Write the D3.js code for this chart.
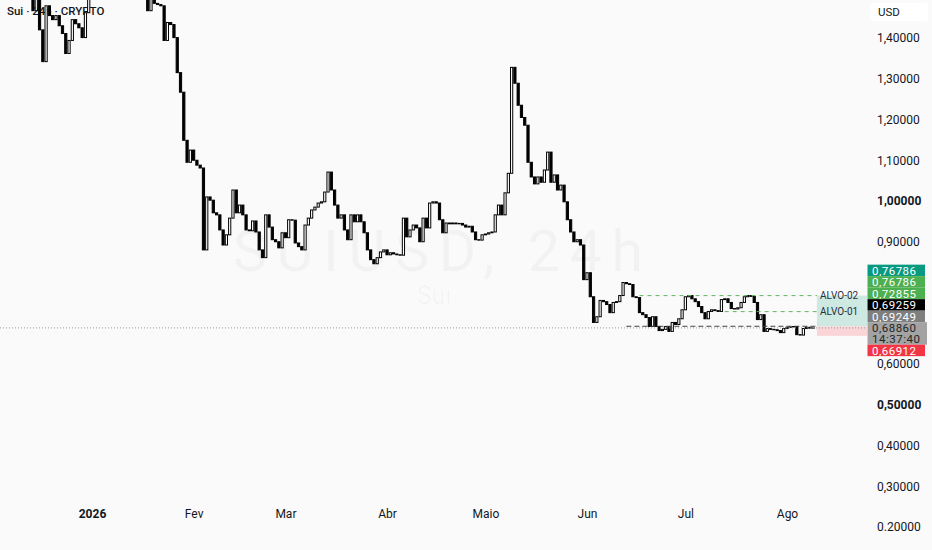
<!DOCTYPE html>
<html><head><meta charset="utf-8">
<script src="https://cdn.jsdelivr.net/npm/d3@7"></script>
<style>
html,body{margin:0;padding:0;background:#fafafa;}
svg{display:block;font-family:Roboto,"Noto Sans",sans-serif;}
</style></head><body>
<svg id="c" width="932" height="550"></svg>
<script>
// ---------- data ----------
const startDate = "2025-12-12";           // first daily candle
const closes = [
1.550,1.530,1.467,1.500,1.420,1.342,1.479,1.455,1.445,1.455,
1.430,1.411,1.362,1.394,1.445,1.435,1.425,1.401,1.462,1.510,
1.560,1.600,1.640,1.620,1.680,1.720,1.700,1.740,1.690,1.710,
1.660,1.650,1.620,1.600,1.580,1.560,1.530,1.467,1.500,1.485,
1.482,1.479,1.394,1.438,1.433,1.401,1.315,1.267,1.149,1.095,
1.125,1.100,1.088,1.081,0.880,1.010,1.002,0.971,0.966,0.929,
0.892,0.917,0.958,1.027,0.971,0.990,0.966,0.929,0.927,0.951,
0.924,0.880,0.861,0.966,0.936,0.905,0.900,0.885,0.922,0.910,
0.954,0.953,0.897,0.888,0.880,0.941,0.958,0.978,0.985,0.995,
0.998,1.022,1.071,1.027,0.990,0.958,0.966,0.929,0.905,0.966,
0.949,0.966,0.949,0.922,0.880,0.856,0.846,0.861,0.875,0.880,
0.868,0.873,0.870,0.868,0.867,0.958,0.912,0.929,0.941,0.934,
0.900,0.958,0.934,0.995,0.998,0.995,0.954,0.922,0.946,0.944,
0.946,0.944,0.945,0.941,0.936,0.938,0.924,0.905,0.904,0.917,
0.919,0.922,0.924,0.966,0.990,0.966,1.020,1.068,1.328,1.289,
1.235,1.205,1.186,1.095,1.059,1.042,1.059,1.046,1.076,1.120,
1.046,1.064,1.027,1.039,0.998,0.954,0.924,0.900,0.905,0.892,
0.807,0.824,0.765,0.702,0.716,0.756,0.753,0.746,0.726,0.751,
0.753,0.768,0.800,0.797,0.795,0.765,0.763,0.726,0.721,0.714,
0.692,0.716,0.692,0.682,0.685,0.692,0.680,0.702,0.697,0.711,
0.733,0.765,0.768,0.760,0.753,0.741,0.726,0.711,0.729,0.733,
0.731,0.729,0.758,0.760,0.751,0.736,0.735,0.738,0.751,0.765,
0.768,0.766,0.751,0.709,0.721,0.680,0.687,0.685,0.684,0.682,
0.677,0.687,0.690,0.691,0.692,0.672,0.671,0.687,0.690,0.688,0.6886
];
const priceTicks      = [1.4, 1.3, 1.2, 1.1, 1.0, 0.9, 0.6, 0.5, 0.4, 0.3, 0.2];
const priceTickLabels = ["1,40000","1,30000","1,20000","1,10000","1,00000","0,90000","0,60000","0,50000","0,40000","0,30000","0.20000"];
const boldPriceTicks  = [1.0, 0.5];
const monthTicks  = ["2026-01-01","2026-02-01","2026-03-01","2026-04-01","2026-05-01","2026-06-01","2026-07-01","2026-08-01"];
const monthLabels = ["2026","Fev","Mar","Abr","Maio","Jun","Jul","Ago"];
const targetNames  = ["ALVO-02","ALVO-01"];
const targetPrices = [0.76786, 0.72855];
const targetFrom   = ["2026-06-17","2026-07-13"];
const entryPrice = 0.69259, entryFrom = "2026-06-13";
const stopPrice = 0.66912;
const lastPrice = 0.68860, lastTime = "14:37:40";
const toolFrom = "2026-08-10T03:00", toolTo = "2026-08-26";
const badgeLabels = ["0,76786","0,76786","0,72855","0,69259","0,69249","0,68860","0,66912"];
const badgePrices = [0.76786, 0.76786, 0.72855, 0.69259, 0.69249, 0.68860, 0.66912];
const badgeColors = ["#089981","#4caf50","#4caf50","#000000","#7e7e7e","#a3a3a3","#f23645"];
const badgeText   = ["#fff","#fff","#fff","#fff","#fff","#262626","#fff"];

// ---------- setup ----------
const W = 932, H = 550, plotR = 867, plotB = 500;
const svg = d3.select("#c");
svg.append("rect").attr("width",W).attr("height",H).attr("fill","#fafafa");
const parse = s => new Date(s + (s.length===10 ? "T00:00:00Z" : ":00Z"));
const x = d3.scaleUtc().domain([parse("2026-01-01"), parse("2026-08-01")]).range([92, 787]);
const y = d3.scaleLinear().domain([0.2, 1.4]).range([527, 38]);

const defs = svg.append("defs");
defs.append("clipPath").attr("id","plot").append("rect").attr("x",0).attr("y",0).attr("width",plotR).attr("height",plotB);

// watermark
const wm = svg.append("g").attr("fill","#000").attr("fill-opacity",0.032);
wm.append("text").attr("x",438).attr("y",271).attr("text-anchor","middle")
  .attr("font-size",57).attr("textLength",410).attr("lengthAdjust","spacing").text("SUIUSD, 24h");
wm.append("text").attr("x",434).attr("y",304).attr("text-anchor","middle")
  .attr("font-size",25).text("Sui");

// title
svg.append("text").attr("x",7).attr("y",15).attr("font-size",11.5).attr("font-weight",500)
  .attr("fill","#131722").text("Sui · 24h · CRYPTO");

const plot = svg.append("g").attr("clip-path","url(#plot)");

// candles
const days = d3.utcDay.range(parse(startDate), d3.utcDay.offset(parse(startDate), closes.length));
const candles = closes.map((c,i)=>({date:days[i], open: i ? closes[i-1] : c, close:c}));
const bw = 2.2;
plot.append("g").selectAll("rect").data(candles).join("rect")
  .attr("x", d => x(d.date) - bw/2)
  .attr("y", d => y(Math.max(d.open,d.close)))
  .attr("width", bw)
  .attr("height", d => Math.max(0.01, Math.abs(y(d.open)-y(d.close))))
  .attr("fill", d => d.close >= d.open ? "#ffffff" : "#000000")
  .attr("stroke", "#000").attr("stroke-width", 1);

// position tool boxes
const tx0 = x(parse(toolFrom)), tx1 = Math.min(plotR, x(parse(toolTo)));
plot.append("rect").attr("x",tx0).attr("width",tx1-tx0)
  .attr("y",y(targetPrices[0])).attr("height",y(entryPrice)-y(targetPrices[0]))
  .attr("fill","#cde9e2");
plot.append("rect").attr("x",tx0).attr("width",tx1-tx0)
  .attr("y",y(entryPrice)).attr("height",y(stopPrice)-y(entryPrice))
  .attr("fill","#fad5d8");

// target lines
targetPrices.forEach((p,i)=>{
  plot.append("line").attr("x1",x(parse(targetFrom[i]))).attr("x2",tx0)
    .attr("y1",y(p)).attr("y2",y(p)).attr("stroke","#5cb85f").attr("stroke-width",1)
    .attr("stroke-dasharray","4,4");
  plot.append("text").attr("x",tx0+3).attr("y",y(p)).attr("dy","0.35em")
    .attr("font-size",10).attr("fill","#2a2e39").text(targetNames[i]);
});
// entry line
plot.append("line").attr("x1",x(parse(entryFrom))).attr("x2",tx0)
  .attr("y1",y(entryPrice)).attr("y2",y(entryPrice)).attr("stroke","#444").attr("stroke-width",1)
  .attr("stroke-dasharray","5,3");
// last price dotted line
plot.append("line").attr("x1",0).attr("x2",plotR).attr("y1",y(lastPrice)).attr("y2",y(lastPrice))
  .attr("stroke","#9a9a9a").attr("stroke-width",1).attr("stroke-dasharray","1,2");

// price axis
const ya = svg.append("g").attr("transform",`translate(876,0)`)
  .call(d3.axisRight(y).tickValues(priceTicks).tickFormat((d,i)=>priceTickLabels[i]).tickSize(0).tickPadding(1));
ya.select(".domain").remove();
ya.selectAll("text").attr("font-size",12).attr("fill","#131722").attr("font-family","Roboto,sans-serif")
  .attr("font-weight",d=>boldPriceTicks.includes(d)?700:400);

// time axis
const xa = svg.append("g").attr("transform",`translate(0,${plotB})`)
  .call(d3.axisBottom(x).tickValues(monthTicks.map(parse)).tickFormat((d,i)=>monthLabels[i]).tickSize(0).tickPadding(9));
xa.select(".domain").remove();
xa.selectAll("text").attr("font-size",12).attr("fill","#131722").attr("font-family","Roboto,sans-serif")
  .attr("font-weight",(d,i)=>i===0?700:400);

// USD button
svg.append("rect").attr("x",870).attr("y",3).attr("width",58).attr("height",18).attr("rx",3).attr("fill","#fff");
svg.append("text").attr("x",878).attr("y",12).attr("dy","0.35em").attr("font-size",11.5).attr("fill","#131722").text("USD");

// price badges: anchored on the last price, others stacked away from it
const bh = 11.5;
const lastIdx = badgePrices.indexOf(lastPrice);
const pos = [];
pos[lastIdx] = y(lastPrice) - bh/2;
for (let i = lastIdx-1; i >= 0; i--) pos[i] = Math.min(y(badgePrices[i]) - bh/2, pos[i+1] - bh);
for (let i = lastIdx+1; i < badgePrices.length; i++) {
  const prevBottom = pos[i-1] + (i-1===lastIdx ? 2*bh - 0.5 : bh);
  pos[i] = Math.max(y(badgePrices[i]) - bh/2, prevBottom);
}
const bg = svg.append("g");
badgePrices.forEach((p,i)=>{
  const isLast = i===lastIdx;
  bg.append("rect").attr("x",867.5).attr("y",pos[i]).attr("width",isLast?59.5:57.5).attr("height",isLast?2*bh-0.5:bh)
    .attr("fill",badgeColors[i]);
  bg.append("text").attr("x",872).attr("y",pos[i]+bh/2).attr("dy","0.36em").attr("font-size",11.5)
    .attr("letter-spacing",0.5).attr("fill",badgeText[i]).text(badgeLabels[i]);
  if (isLast) bg.append("text").attr("x",872).attr("y",pos[i]+bh/2+10.8).attr("dy","0.36em")
    .attr("font-size",11.5).attr("letter-spacing",0.5).attr("fill",badgeText[i]).text(lastTime);
});
</script>
</body></html>
